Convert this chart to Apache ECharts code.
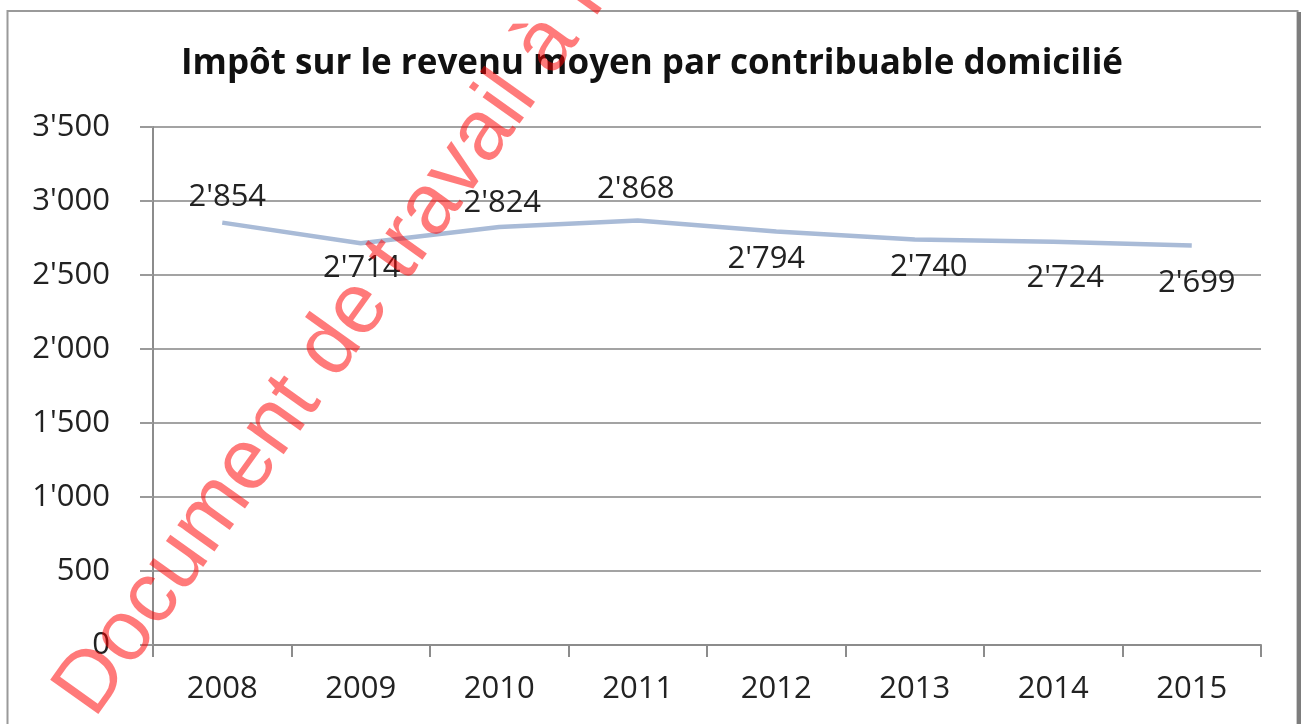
<!DOCTYPE html>
<html>
<head>
<meta charset="utf-8">
<title>Impôt sur le revenu moyen par contribuable domicilié</title>
<script src="https://cdn.jsdelivr.net/npm/echarts@6/dist/echarts.min.js"></script>
<style>
  html, body { margin: 0; padding: 0; background: #fff; }
  #chart { width: 1304px; height: 724px; }
</style>
</head>
<body>
<div id="chart"></div>
<script>
var years = ['2008', '2009', '2010', '2011', '2012', '2013', '2014', '2015'];
var impotMoyen = [2854, 2714, 2824, 2868, 2794, 2740, 2724, 2699];
var yTicks = [0, 500, 1000, 1500, 2000, 2500, 3000, 3500];

// where each data label sits relative to its point (as in the original)
var labelShift = [[5, -25], [1, 25], [3, -24], [-2, -31], [-10, 28], [14, 28], [12, 36], [5, 38]];

function fmt(v) {
  return String(v).replace(/\B(?=(\d{3})+(?!\d))/g, "'");
}

var chart = echarts.init(document.getElementById('chart'));

var points = impotMoyen.map(function (v, i) {
  return {
    value: v,
    label: { offset: labelShift[i] }
  };
});

chart.setOption({
  backgroundColor: '#fff',
  animation: false,
  title: {
    text: 'Impôt sur le revenu moyen par contribuable domicilié',
    left: 'center',
    top: 42,
    textStyle: {
      fontFamily: 'Open Sans',
      fontWeight: 'bold',
      fontSize: 35,
      color: '#111'
    }
  },
  grid: { left: 153, right: 43, top: 127, bottom: 79 },
  xAxis: {
    type: 'category',
    data: years,
    boundaryGap: true,
    axisLine: { lineStyle: { color: '#8c8c8c', width: 2 } },
    axisTick: { show: true, length: 12, alignWithLabel: false, lineStyle: { color: '#8c8c8c', width: 2 } },
    axisLabel: { margin: 29, fontFamily: 'Open Sans', fontSize: 31, color: '#222' }
  },
  yAxis: {
    type: 'value',
    min: yTicks[0],
    max: yTicks[yTicks.length - 1],
    interval: 500,
    axisLine: { show: true, lineStyle: { color: '#8c8c8c', width: 2 } },
    axisTick: { show: true, length: 13, lineStyle: { color: '#9a9a9a', width: 2 } },
    splitLine: { lineStyle: { color: '#a3a3a3', width: 2 } },
    axisLabel: {
      margin: 43,
      fontFamily: 'Open Sans',
      fontSize: 31,
      color: '#222',
      formatter: function (v) { return fmt(v); }
    }
  },
  series: [{
    type: 'line',
    data: points,
    symbol: 'circle',
    symbolSize: 1,
    showSymbol: true,
    itemStyle: { color: 'rgba(0,0,0,0)' },
    lineStyle: { color: '#a9bbd7', width: 4.5 },
    label: {
      show: true,
      position: 'inside',
      fontFamily: 'Open Sans',
      fontSize: 31,
      color: '#222',
      formatter: function (p) { return fmt(p.value); }
    }
  }],
  graphic: [
    {
      type: 'rect',
      z: -10,
      shape: { x: 7.5, y: 11, width: 1290, height: 740 },
      style: { fill: 'none', stroke: '#9a9a9a', lineWidth: 2 }
    },
    {
      type: 'line',
      z: -10,
      shape: { x1: 1299, y1: 12, x2: 1299, y2: 724 },
      style: { stroke: '#7d7d7d', lineWidth: 4 }
    },
    {
      type: 'text',
      z: 100,
      x: 75,
      y: 706,
      rotation: 54.5 * Math.PI / 180,
      style: {
        text: 'Document de travail à l',
        font: '86px "Liberation Sans", Arial, sans-serif',
        fill: 'rgba(255,0,0,0.52)',
        align: 'left',
        textAlign: 'left',
        verticalAlign: 'middle',
        textVerticalAlign: 'middle'
      }
    }
  ]
});
</script>
</body>
</html>
